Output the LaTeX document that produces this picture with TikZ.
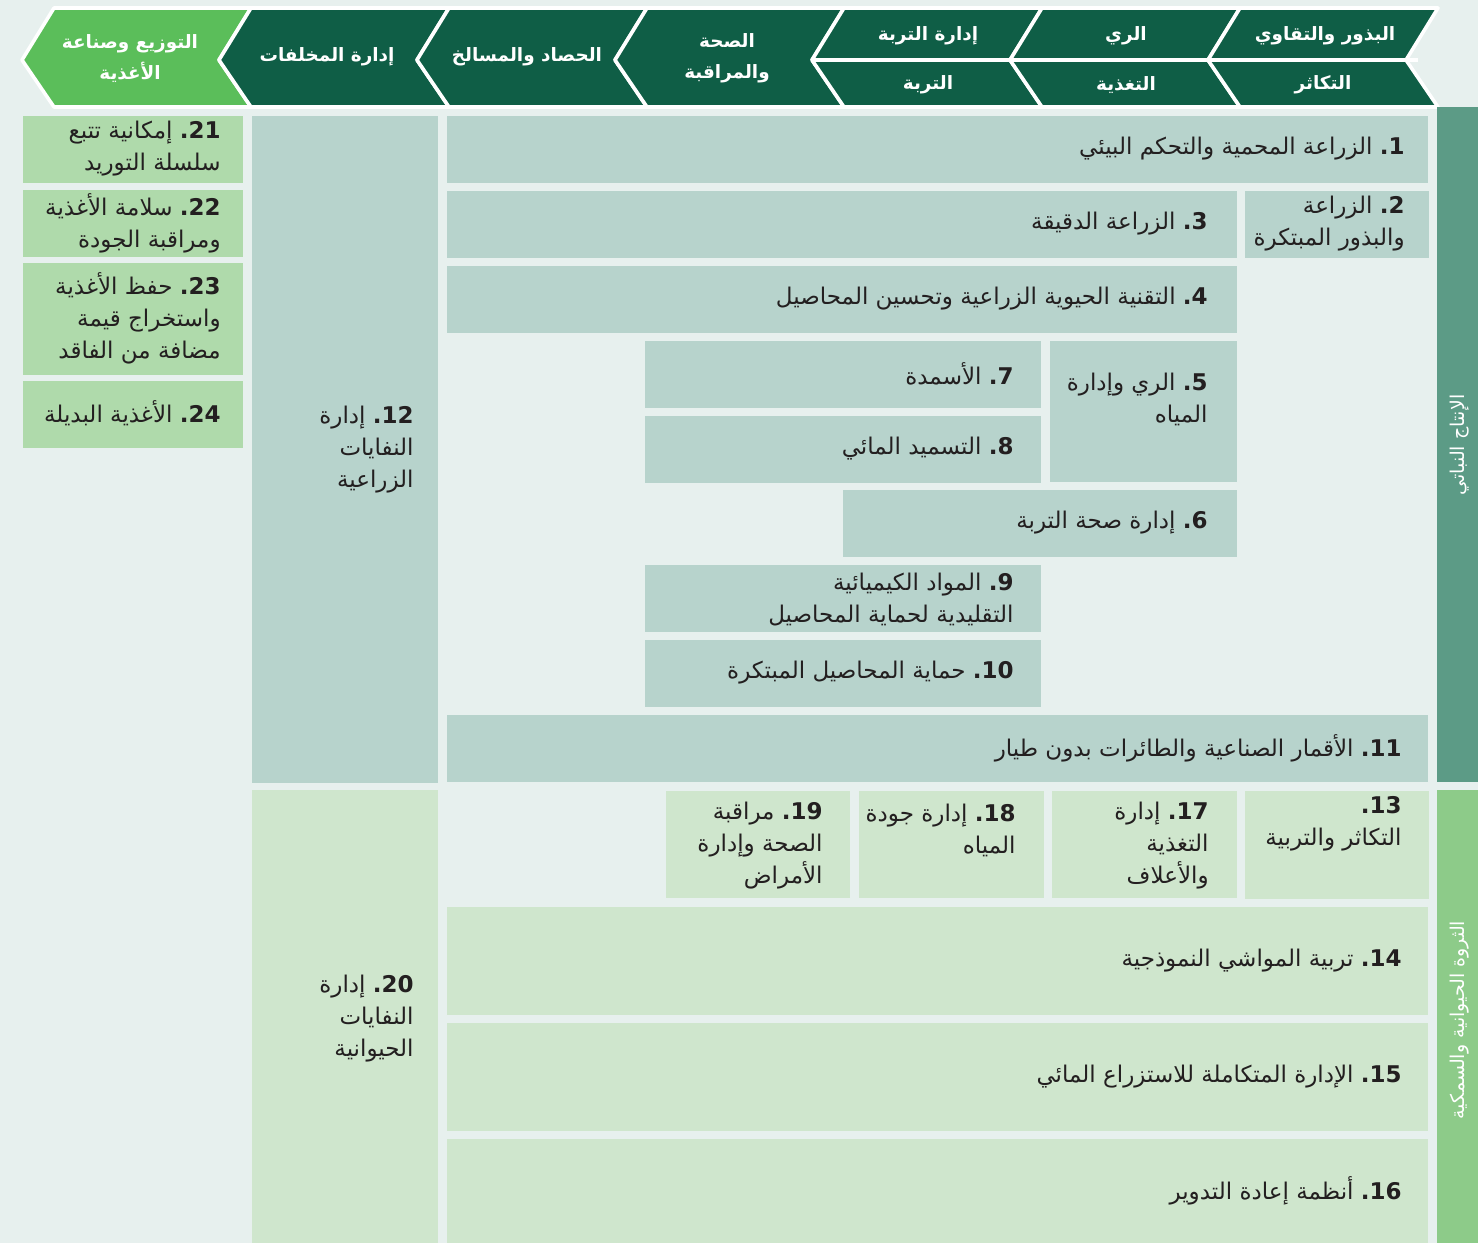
\documentclass[tikz,border=0pt]{standalone}
\usepackage{fontspec}
\newfontfamily\arabicfont[Script=Arabic]{DejaVu Sans}
\TeXXeTstate=1
\newcommand{\arln}[1]{\beginR#1\endR}
\newcommand{\nm}[1]{\hbox{\bfseries#1}\hbox{\bfseries.}}
\definecolor{bgcol}{HTML}{E7F0EE}
\definecolor{headdark}{HTML}{0F5E46}
\definecolor{headgreen}{HTML}{5BBE5A}
\definecolor{cropcol}{HTML}{B7D3CC}
\definecolor{livecol}{HTML}{CFE6CD}
\definecolor{foodcol}{HTML}{AFDAAB}
\definecolor{cropside}{HTML}{5C9B86}
\definecolor{liveside}{HTML}{8DCB89}
\definecolor{txt}{HTML}{231F20}

\begin{document}
\begin{tikzpicture}[x=0.5pt, y=-0.5pt, font=\arabicfont\fontsize{11.5}{16}\selectfont,
  cell/.style={anchor=east, align=right, text=txt, inner sep=0pt},
  head/.style={align=center, text=white, inner sep=0pt, font=\arabicfont\bfseries\fontsize{9.2}{15.5}\selectfont},
  side/.style={rotate=90, text=white, inner sep=0pt, font=\arabicfont\fontsize{9.5}{12}\selectfont},
  sep/.style={draw=white, line width=1.8pt, line join=round},]
 \useasboundingbox (0,0) rectangle (1478,1243);
 \fill[bgcol] (0,0) rectangle (1478,1243);

 % header chevrons
 \foreach \a/\b/\c in {22/219/headgreen, 219/417/headdark, 417/615/headdark, 615/812/headdark,
   812/1010/headdark, 1010/1208/headdark, 1208/1406/headdark}
   \filldraw[fill=\c, sep] (\a,60) -- (\a+32,8) -- (\b+32,8) -- (\b,60) -- (\b+32,107) -- (\a+32,107) -- cycle;
 \draw[sep] (812,60) -- (1418,60);

 \node[head] (h1) at (130,59) {\arln{التوزيع وصناعة}\\\arln{الأغذية}};
 \node[head] (h2) at (327,57) {\arln{إدارة المخلفات}};
 \node[head] (h3) at (527,57) {\arln{الحصاد والمسالخ}};
 \node[head] (h4) at (727,58) {\arln{الصحة}\\\arln{والمراقبة}};
 \node[head] (h5a) at (928,36) {\arln{إدارة التربة}};
 \node[head] (h5b) at (928,85) {\arln{التربة}};
 \node[head] (h6a) at (1126,36) {\arln{الري}};
 \node[head] (h6b) at (1126,85) {\arln{التغذية}};
 \node[head] (h7a) at (1325,36) {\arln{البذور والتقاوي}};
 \node[head] (h7b) at (1323,85) {\arln{التكاثر}};

 % side bars
 \fill[cropside] (1437,107) rectangle (1478,782);
 \fill[liveside] (1437,790) rectangle (1478,1243);
 \node[side] (plant) at (1460,445) {\arln{الإنتاج النباتي}};
 \node[side] (animal) at (1460,1020) {\arln{الثروة الحيوانية والسمكية}};

 % crop production
 \fill[cropcol] (447,116) rectangle (1428,183);
 \fill[cropcol] (1245,191) rectangle (1429,258);
 \fill[cropcol] (447,191) rectangle (1237,258);
 \fill[cropcol] (447,266) rectangle (1237,333);
 \fill[cropcol] (1050,341) rectangle (1237,482);
 \fill[cropcol] (843,490) rectangle (1237,557);
 \fill[cropcol] (645,341) rectangle (1041,408);
 \fill[cropcol] (645,416) rectangle (1041,483);
 \fill[cropcol] (645,565) rectangle (1041,632);
 \fill[cropcol] (645,640) rectangle (1041,707);
 \fill[cropcol] (447,715) rectangle (1428,782);
 \fill[cropcol] (252,116) rectangle (438,783);

 \node[cell] (c1) at (1405,149) {\arln{\nm{1} الزراعة المحمية والتحكم البيئي}};
 \node[cell] (c2) at (1405,224) {\arln{\nm{2} الزراعة}\\\arln{والبذور المبتكرة}};
 \node[cell] (c3) at (1208,224) {\arln{\nm{3} الزراعة الدقيقة}};
 \node[cell] (c4) at (1208,299) {\arln{\nm{4} التقنية الحيوية الزراعية وتحسين المحاصيل}};
 \node[cell] (c5) at (1208,399) {\arln{\nm{5} الري وإدارة}\\\arln{المياه}};
 \node[cell] (c6) at (1208,523) {\arln{\nm{6} إدارة صحة التربة}};
 \node[cell] (c7) at (1014,374) {\arln{\nm{7} الأسمدة}};
 \node[cell] (c8) at (1014,449) {\arln{\nm{8} التسميد المائي}};
 \node[cell] (c9) at (1014,600) {\arln{\nm{9} المواد الكيميائية}\\\arln{التقليدية لحماية المحاصيل}};
 \node[cell] (c10) at (1014,673) {\arln{\nm{10} حماية المحاصيل المبتكرة}};
 \node[cell] (c11) at (1402,748) {\arln{\nm{11} الأقمار الصناعية والطائرات بدون طيار}};
 \node[cell] (c12) at (414,450) {\arln{\nm{12} إدارة}\\\arln{النفايات}\\\arln{الزراعية}};

 % livestock and fisheries
 \fill[livecol] (1245,791) rectangle (1429,899);
 \fill[livecol] (1052,791) rectangle (1237,898);
 \fill[livecol] (859,791) rectangle (1044,898);
 \fill[livecol] (666,791) rectangle (850,898);
 \fill[livecol] (447,907) rectangle (1428,1015);
 \fill[livecol] (447,1023) rectangle (1428,1131);
 \fill[livecol] (447,1139) rectangle (1428,1243);
 \fill[livecol] (252,790) rectangle (438,1243);

 \node[cell] (c13) at (1402,824) {\arln{\nm{13}}\\\arln{التكاثر والتربية}};
 \node[cell] (c17) at (1209,846) {\arln{\nm{17} إدارة}\\\arln{التغذية}\\\arln{والأعلاف}};
 \node[cell] (c18) at (1016,830) {\arln{\nm{18} إدارة جودة}\\\arln{المياه}};
 \node[cell] (c19) at (823,846) {\arln{\nm{19} مراقبة}\\\arln{الصحة وإدارة}\\\arln{الأمراض}};
 \node[cell] (c14) at (1402,961) {\arln{\nm{14} تربية المواشي النموذجية}};
 \node[cell] (c15) at (1402,1077) {\arln{\nm{15} الإدارة المتكاملة للاستزراع المائي}};
 \node[cell] (c16) at (1402,1191) {\arln{\nm{16} أنظمة إعادة التدوير}};
 \node[cell] (c20) at (414,1019) {\arln{\nm{20} إدارة}\\\arln{النفايات}\\\arln{الحيوانية}};

 % food
 \fill[foodcol] (23,116) rectangle (243,183);
 \fill[foodcol] (23,190) rectangle (243,257);
 \fill[foodcol] (23,263) rectangle (243,375);
 \fill[foodcol] (23,381) rectangle (243,448);
 \node[cell] (c21) at (221,149) {\arln{\nm{21} إمكانية تتبع}\\\arln{سلسلة التوريد}};
 \node[cell] (c22) at (221,223) {\arln{\nm{22} سلامة الأغذية}\\\arln{ومراقبة الجودة}};
 \node[cell] (c23) at (221,318) {\arln{\nm{23} حفظ الأغذية}\\\arln{واستخراج قيمة}\\\arln{مضافة من الفاقد}};
 \node[cell] (c24) at (221,413) {\arln{\nm{24} الأغذية البديلة}};
\end{tikzpicture}
\end{document}
